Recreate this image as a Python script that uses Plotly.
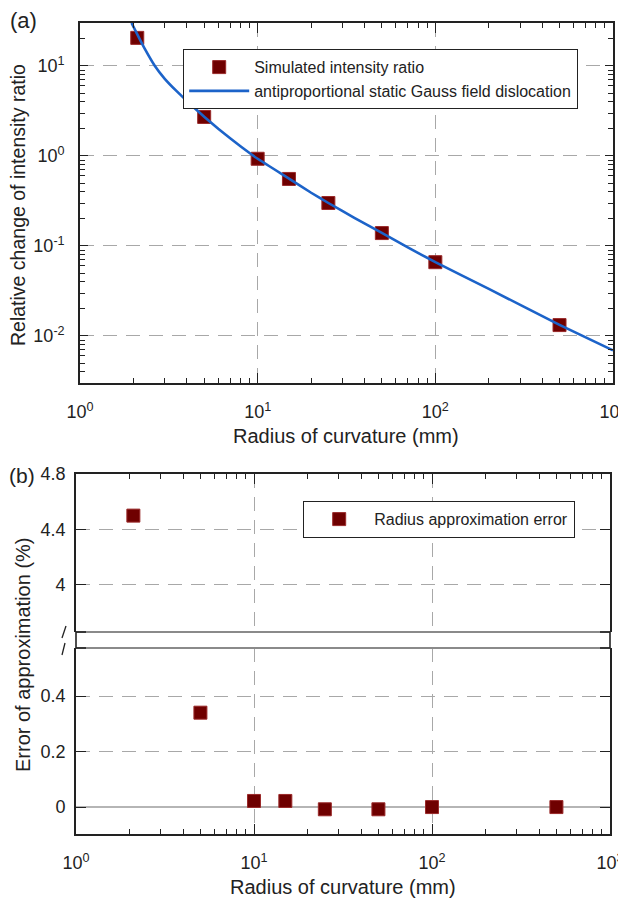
import plotly.graph_objects as go
import math

# the page body adds an 8 px margin; the figure is sized to fit the 626x901 window
OFF = 8
W, H = 626 - OFF, 901 - OFF

# ---- data ----
radius = [2.1, 5, 10, 15, 25, 50, 100, 500]
ratio = [20.5, 2.71, 0.93, 0.555, 0.30, 0.139, 0.066, 0.0132]
fit_radius = [1.95, 2.15, 2.3, 2.64, 3, 3.5, 4, 5, 6, 7, 8, 10, 15, 20, 25, 35, 50, 70, 100, 200, 500, 1000]
fit_ratio = [30, 20.5, 15.9, 10, 7.2, 5.24, 4.07, 2.72, 2.0, 1.57, 1.28, 0.93, 0.56, 0.39, 0.30,
             0.205, 0.14, 0.0966, 0.066, 0.0333, 0.0133, 0.0069]
error = [4.5, 0.34, 0.022, 0.022, -0.008, -0.008, 0.0, 0.0]

x_major = [1, 10, 100, 1000]
x_major_text = ["10<sup>0</sup>", "10<sup>1</sup>", "10<sup>2</sup>", "10<sup>3</sup>"]
y_major = [0.01, 0.1, 1, 10]
y_major_text = ["10<sup>-2</sup>", "10<sup>-1</sup>", "10<sup>0</sup>", "10<sup>1</sup>"]
err_up_ticks = [4, 4.4, 4.8]
err_up_text = ["4", "4.4", "4.8"]
err_lo_ticks = [0, 0.2, 0.4]
err_lo_text = ["0", "0.2", "0.4"]


def minor_vals(lo_exp, hi_exp):
    out = []
    for e in range(lo_exp, hi_exp):
        for m in range(2, 10):
            out.append(m * 10 ** e)
    return out


def px(x):
    return (x - OFF) / W


def py(y):
    return 1 - (y - OFF) / H


FONT = "Liberation Sans, Arial, sans-serif"
MARK = "#6f0000"
BLUE = "#1c63c9"
GRID = "#a8a8a8"
AX = "#222222"
TXT = "#222222"

fig = go.Figure()

fig.add_trace(go.Scatter(
    x=radius, y=ratio, mode="markers", name="Simulated intensity ratio",
    marker=dict(symbol="square", size=13, color=MARK, line=dict(color="#9a2a2a", width=1)),
    xaxis="x", yaxis="y", legend="legend"))
fig.add_trace(go.Scatter(
    x=fit_radius, y=fit_ratio, mode="lines", name="antiproportional static Gauss field dislocation",
    line=dict(color=BLUE, width=2.6, shape="spline", smoothing=0.3),
    xaxis="x", yaxis="y", legend="legend"))

# bottom panel: broken axis (upper and lower segments)
fig.add_trace(go.Scatter(
    x=radius, y=error, mode="markers", name="Radius approximation error",
    marker=dict(symbol="square", size=13, color=MARK, line=dict(color="#9a2a2a", width=1)),
    xaxis="x2", yaxis="y2", legend="legend2"))
fig.add_trace(go.Scatter(
    x=radius, y=error, mode="markers", name="Radius approximation error",
    marker=dict(symbol="square", size=13, color=MARK, line=dict(color="#9a2a2a", width=1)),
    xaxis="x3", yaxis="y3", showlegend=False))

tickfont = dict(family=FONT, size=18, color=TXT)
titlefont = dict(family=FONT, size=20, color=TXT)

common_x = dict(
    type="log", range=[0, 3], tickmode="array", tickvals=x_major, automargin=False,
    showgrid=True, gridcolor=GRID, griddash="14px,9px", gridwidth=1,
    showline=True, linecolor=AX, linewidth=1.6, ticklabeloverflow="allow",
    ticks="inside", ticklen=10, tickwidth=1.3, tickcolor=AX,
    minor=dict(tickmode="array", tickvals=minor_vals(0, 3), ticks="inside", ticklen=5,
               tickwidth=1.2, tickcolor=AX, showgrid=False),
    zeroline=False,
)

lay = dict(
    width=W, height=H, margin=dict(l=0, r=0, t=0, b=0, autoexpand=False),
    paper_bgcolor="white", plot_bgcolor="white",
    font=dict(family=FONT, color=TXT),
    xaxis=dict(common_x, domain=[px(80), px(613)], anchor="y", mirror="allticks",
               ticktext=x_major_text, tickfont=tickfont, ticklabelstandoff=12),
    yaxis=dict(type="log", range=[math.log10(0.003), math.log10(30)], domain=[py(383), py(23)],
               anchor="x", tickmode="array", tickvals=y_major, ticktext=y_major_text,
               tickfont=tickfont, showgrid=True, gridcolor=GRID, griddash="14px,9px", gridwidth=1,
               showline=True, linecolor=AX, linewidth=1.6, mirror="allticks", automargin=False,
               ticks="inside", ticklen=8, tickwidth=1.3, tickcolor=AX,
               minor=dict(tickmode="array", tickvals=minor_vals(-3, 2), ticks="inside", ticklen=5,
                          tickwidth=1.2, tickcolor=AX, showgrid=False),
               zeroline=False, ticklabelstandoff=10),
    # upper segment of broken axis
    xaxis2=dict(common_x, domain=[px(76), px(610)], anchor="y2", side="top",
                showticklabels=False, matches="x3"),
    yaxis2=dict(range=[3.661, 4.8], domain=[py(632), py(474)], anchor="x2",
                tickmode="array", tickvals=err_up_ticks, ticktext=err_up_text, tickfont=tickfont,
                showgrid=True, gridcolor=GRID, griddash="14px,9px", gridwidth=1, automargin=False,
                showline=True, linecolor=AX, linewidth=1.6, mirror="ticks",
                ticks="inside", ticklen=10, tickwidth=1.3, tickcolor=AX,
                zeroline=False, ticklabelstandoff=5),
    # lower segment of broken axis
    xaxis3=dict(common_x, domain=[px(76), px(610)], anchor="y3",
                ticktext=x_major_text, tickfont=tickfont, ticklabelstandoff=12),
    yaxis3=dict(range=[-0.097, 0.573], domain=[py(834), py(648)], anchor="x3",
                tickmode="array", tickvals=err_lo_ticks, ticktext=err_lo_text, tickfont=tickfont,
                showgrid=True, gridcolor=GRID, griddash="14px,9px", gridwidth=1, automargin=False,
                showline=True, linecolor=AX, linewidth=1.6, mirror="ticks",
                ticks="inside", ticklen=10, tickwidth=1.3, tickcolor=AX,
                zeroline=True, zerolinecolor="#b5b5b5", zerolinewidth=2.2,
                ticklabelstandoff=5),
    legend=dict(x=px(183), y=py(49), xanchor="left", yanchor="top",
                bgcolor="white", bordercolor=AX, borderwidth=1.2,
                font=dict(family=FONT, size=16, color=TXT), itemwidth=60,
                tracegroupgap=0),
    legend2=dict(x=px(303), y=py(501), xanchor="left", yanchor="top",
                 bgcolor="white", bordercolor=AX, borderwidth=1.2,
                 font=dict(family=FONT, size=16, color=TXT), itemwidth=60),
    showlegend=True,
)
fig.update_layout(**lay)

shapes = []
# break lines
for yb in (632, 648):
    shapes.append(dict(type="line", xref="paper", yref="paper", x0=px(76), x1=px(610),
                       y0=py(yb), y1=py(yb), line=dict(color="#8a8a8a", width=2)))
    shapes.append(dict(type="line", xref="paper", yref="paper", x0=px(76), x1=px(86),
                       y0=py(yb), y1=py(yb), line=dict(color=AX, width=1.6)))
    shapes.append(dict(type="line", xref="paper", yref="paper", x0=px(600), x1=px(610),
                       y0=py(yb), y1=py(yb), line=dict(color=AX, width=1.6)))
# continuous side lines through the break gap
for xl in (76, 610):
    shapes.append(dict(type="line", xref="paper", yref="paper", x0=px(xl), x1=px(xl),
                       y0=py(648), y1=py(632), line=dict(color=AX, width=1.6)))
# slash marks
for (xa, ya, xb, yb) in [(66, 626, 62, 638), (65, 643, 62, 655)]:
    shapes.append(dict(type="line", xref="paper", yref="paper", x0=px(xa), x1=px(xb),
                       y0=py(ya), y1=py(yb), line=dict(color=TXT, width=1.3)))
fig.update_layout(shapes=shapes)


def note(text, x, y, size=20, angle=0, xanchor="center"):
    fig.add_annotation(text=text, x=px(x), y=py(y), xref="paper", yref="paper",
                       xanchor=xanchor, yanchor="middle", showarrow=False, textangle=angle,
                       font=dict(family=FONT, size=size, color=TXT))


note("(a)", 8, 20, size=22, xanchor="left")
note("(b)", 7, 475, size=21, xanchor="left")
note("Radius of curvature (mm)", 346, 436)
note("Radius of curvature (mm)", 343, 887)
note("Relative change of intensity ratio", 18, 205, size=19.5, angle=-90)
note("Error of approximation (%)", 23, 655, angle=-90)

fig.write_html("out.html")
